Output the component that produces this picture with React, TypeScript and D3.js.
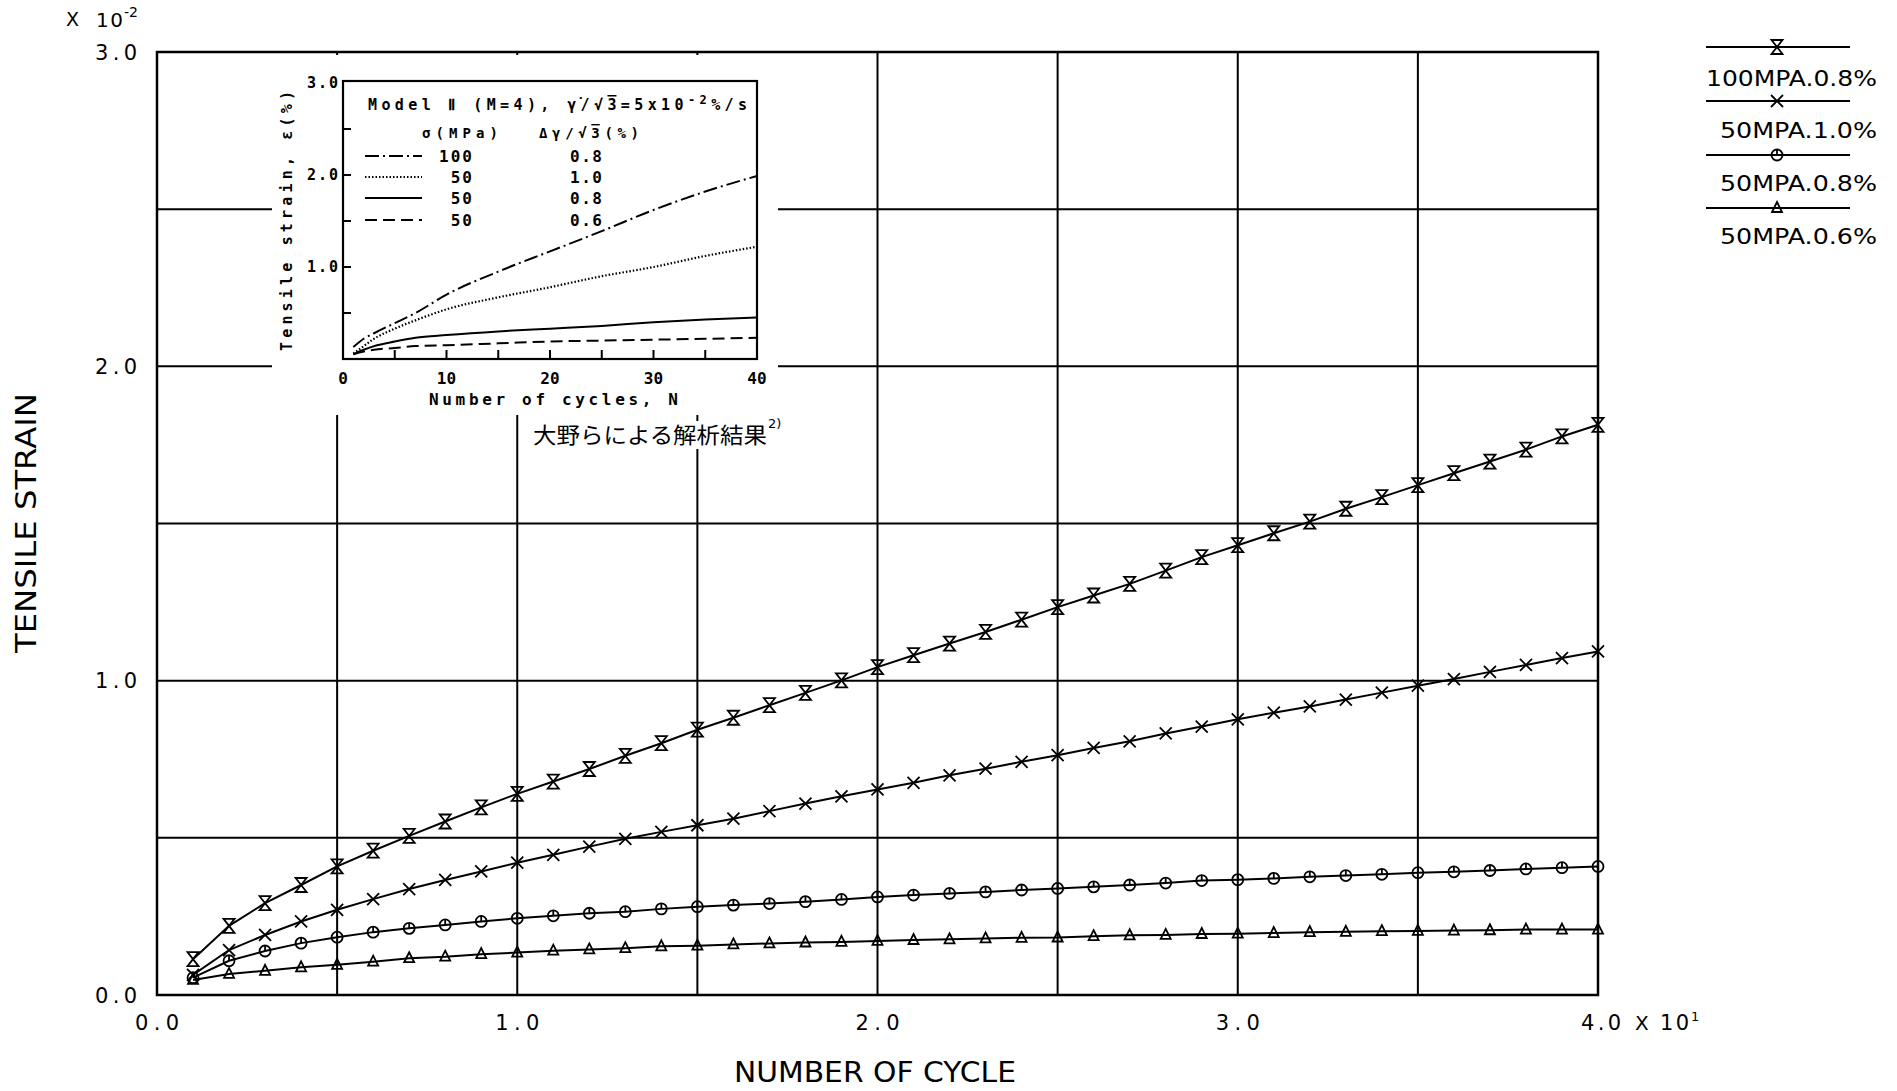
import React from "react";
import * as d3 from "d3";

// Number of cycles (main chart, x values of the markers)
const cycles = [
  1, 2, 3, 4, 5, 6, 7, 8, 9, 10, 11, 12, 13, 14, 15, 16, 17, 18, 19, 20,
  21, 22, 23, 24, 25, 26, 27, 28, 29, 30, 31, 32, 33, 34, 35, 36, 37, 38, 39, 40,
];

// Tensile strain (x 10^-2) for each loading case
const strain100_08 = [
  0.114, 0.22, 0.292, 0.35, 0.409, 0.459, 0.506, 0.552, 0.597, 0.64,
  0.679, 0.719, 0.761, 0.801, 0.844, 0.882, 0.922, 0.961, 1.001, 1.043,
  1.081, 1.118, 1.155, 1.194, 1.234, 1.271, 1.308, 1.35, 1.393, 1.431,
  1.469, 1.506, 1.547, 1.584, 1.622, 1.66, 1.697, 1.735, 1.777, 1.814,
];
const strain50_10 = [
  0.064, 0.143, 0.191, 0.234, 0.271, 0.305, 0.337, 0.366, 0.393, 0.421,
  0.446, 0.472, 0.497, 0.519, 0.54, 0.561, 0.585, 0.609, 0.632, 0.654,
  0.675, 0.699, 0.72, 0.742, 0.763, 0.786, 0.807, 0.832, 0.854, 0.877,
  0.898, 0.918, 0.94, 0.962, 0.984, 1.005, 1.028, 1.05, 1.072, 1.093,
];
const strain50_08 = [
  0.055, 0.109, 0.14, 0.165, 0.184, 0.2, 0.212, 0.223, 0.234, 0.244,
  0.252, 0.26, 0.265, 0.274, 0.281, 0.286, 0.291, 0.297, 0.304, 0.312,
  0.318, 0.323, 0.328, 0.334, 0.339, 0.344, 0.35, 0.356, 0.364, 0.367,
  0.371, 0.376, 0.38, 0.384, 0.389, 0.392, 0.396, 0.401, 0.405, 0.409,
];
const strain50_06 = [
  0.048, 0.067, 0.077, 0.088, 0.096, 0.106, 0.117, 0.122, 0.13, 0.135,
  0.141, 0.145, 0.149, 0.155, 0.157, 0.161, 0.164, 0.167, 0.169, 0.172,
  0.175, 0.177, 0.18, 0.182, 0.183, 0.187, 0.19, 0.191, 0.194, 0.195,
  0.197, 0.2, 0.201, 0.203, 0.204, 0.205, 0.206, 0.208, 0.208, 0.208,
];

const seriesNames = ["100MPA.0.8%", "50MPA.1.0%", "50MPA.0.8%", "50MPA.0.6%"];
const xTickValues = [0, 10, 20, 30];
const xTickLabels = ["0.0", "1.0", "2.0", "3.0"];
const yTickValues = [0, 1, 2, 3];
const yTickLabels = ["0.0", "1.0", "2.0", "3.0"];
const xGrid = [5, 10, 15, 20, 25, 30, 35];
const yGrid = [0.5, 1.0, 1.5, 2.0, 2.5];

// Inset: analysis results (Ohno et al.)
const insetCycles = [1, 2, 3, 5, 7, 10, 15, 20, 25, 30, 35, 40];
const insetDashDot = [0.13, 0.22, 0.28, 0.39, 0.5, 0.7, 0.95, 1.17, 1.39, 1.62, 1.82, 1.99];
const insetDotted = [0.06, 0.14, 0.22, 0.33, 0.42, 0.54, 0.67, 0.78, 0.9, 1.0, 1.12, 1.22];
const insetSolid = [0.05, 0.1, 0.14, 0.19, 0.23, 0.26, 0.3, 0.33, 0.36, 0.4, 0.43, 0.45];
const insetDashed = [0.05, 0.08, 0.1, 0.12, 0.14, 0.15, 0.17, 0.19, 0.2, 0.21, 0.22, 0.23];
const insetSigma = ["100", "50", "50", "50"];
const insetDelta = ["0.8", "1.0", "0.8", "0.6"];
const insetXTicks = [0, 10, 20, 30, 40];
const insetYTicks = [1, 2, 3];

const FONT = "'DejaVu Sans', sans-serif";
const MONO = "'DejaVu Sans Mono', monospace";

type MarkerKind = "hourglass" | "cross" | "circle" | "triangle";
const markerKinds: MarkerKind[] = ["hourglass", "cross", "circle", "triangle"];

function Marker({ kind, x, y }: { kind: MarkerKind; x: number; y: number }) {
  const common = { fill: "none", stroke: "#000", strokeWidth: 1.8 };
  if (kind === "hourglass") {
    return (
      <path
        {...common}
        d={`M${x - 5.5},${y - 7} L${x + 5.5},${y - 7} L${x - 5.5},${y + 7} L${x + 5.5},${y + 7} Z`}
      />
    );
  }
  if (kind === "cross") {
    return (
      <path
        {...common}
        d={`M${x - 6},${y - 6} L${x + 6},${y + 6} M${x - 6},${y + 6} L${x + 6},${y - 6}`}
      />
    );
  }
  if (kind === "circle") {
    return (
      <g>
        <circle {...common} cx={x} cy={y} r={5.5} />
        <line {...common} x1={x} y1={y - 5.5} x2={x} y2={y} />
      </g>
    );
  }
  return (
    <path {...common} d={`M${x},${y - 6} L${x + 5},${y + 4} L${x - 5},${y + 4} Z`} />
  );
}

export default function App() {
  const W = 1897;
  const H = 1091;
  const x = d3.scaleLinear().domain([0, 40]).range([157, 1598]);
  const y = d3.scaleLinear().domain([0, 3]).range([995, 52]);

  const series = [strain100_08, strain50_10, strain50_08, strain50_06];
  const line = d3
    .line<number>()
    .x((_, i) => x(cycles[i]))
    .y((d) => y(d));

  // inset scales
  const ix = d3.scaleLinear().domain([0, 40]).range([343, 757]);
  const iy = d3.scaleLinear().domain([0, 3]).range([359, 83]);
  const iline = d3
    .line<number>()
    .x((_, i) => ix(insetCycles[i]))
    .y((d) => iy(d))
    .curve(d3.curveMonotoneX);
  const insetSeries = [insetDashDot, insetDotted, insetSolid, insetDashed];
  const insetDash = ["14,4,2,4", "1.5,2", "none", "12,6"];

  const legendLineY = [47, 101, 155, 208];
  const legendTextY = [86, 138, 191, 244];
  const legendTextX = [1706, 1720, 1720, 1720];

  const insetRowY = [156, 177, 198, 220];

  return (
    <svg
      width={W}
      height={H}
      style={{ position: "absolute", left: 0, top: 0, background: "#fff" }}
    >
      <rect x={0} y={0} width={W} height={H} fill="#fff" />

      {/* grid */}
      {xGrid.map((g) => (
        <line key={"gx" + g} x1={x(g)} x2={x(g)} y1={y(0)} y2={y(3)} stroke="#000" strokeWidth={2} />
      ))}
      {yGrid.map((g) => (
        <line key={"gy" + g} x1={x(0)} x2={x(40)} y1={y(g)} y2={y(g)} stroke="#000" strokeWidth={2} />
      ))}

      {/* plot frame */}
      <rect
        x={x(0)}
        y={y(3)}
        width={x(40) - x(0)}
        height={y(0) - y(3)}
        fill="none"
        stroke="#000"
        strokeWidth={2.5}
      />

      {/* series */}
      {series.map((s, si) => (
        <g key={"s" + si}>
          <path d={line(s) || ""} fill="none" stroke="#000" strokeWidth={2} />
          {s.map((v, i) => (
            <Marker key={i} kind={markerKinds[si]} x={x(cycles[i])} y={y(v)} />
          ))}
        </g>
      ))}

      {/* y tick labels */}
      {yTickValues.map((v, i) => (
        <text
          key={"yt" + v}
          x={137}
          y={y(v) + 7.5}
          textAnchor="end"
          fontFamily={FONT}
          fontSize={21}
          textLength={42}
          lengthAdjust="spacing"
        >
          {yTickLabels[i]}
        </text>
      ))}
      {/* x tick labels */}
      {xTickValues.map((v, i) => (
        <text
          key={"xt" + v}
          x={x(v) - 22}
          y={1030}
          fontFamily={FONT}
          fontSize={21}
          textLength={44}
          lengthAdjust="spacing"
        >
          {xTickLabels[i]}
        </text>
      ))}
      <text x={1581} y={1030} fontFamily={FONT} fontSize={21} textLength={40} lengthAdjust="spacing">
        4.0
      </text>
      <text x={1635} y={1030} fontFamily={FONT} fontSize={20}>X</text>
      <text x={1660} y={1030} fontFamily={FONT} fontSize={21} textLength={29} lengthAdjust="spacing">
        10
      </text>
      <text x={1691} y={1021} fontFamily={FONT} fontSize={13}>1</text>

      {/* y multiplier */}
      <text x={66} y={26} fontFamily={FONT} fontSize={19}>X</text>
      <text x={96} y={27} fontFamily={FONT} fontSize={20} textLength={27} lengthAdjust="spacing">
        10
      </text>
      <text x={124} y={17} fontFamily={FONT} fontSize={14}>-2</text>

      {/* axis titles */}
      <text
        x={875}
        y={1082}
        textAnchor="middle"
        fontFamily={FONT}
        fontSize={28}
        textLength={282}
        lengthAdjust="spacingAndGlyphs"
      >
        NUMBER OF CYCLE
      </text>
      <text
        transform="translate(36,523) rotate(-90)"
        textAnchor="middle"
        fontFamily={FONT}
        fontSize={28}
        textLength={260}
        lengthAdjust="spacingAndGlyphs"
      >
        TENSILE STRAIN
      </text>

      {/* legend */}
      {seriesNames.map((name, i) => (
        <g key={"lg" + i}>
          <line x1={1706} x2={1850} y1={legendLineY[i]} y2={legendLineY[i]} stroke="#000" strokeWidth={2} />
          <Marker kind={markerKinds[i]} x={1777} y={legendLineY[i]} />
          <text
            x={legendTextX[i]}
            y={legendTextY[i]}
            fontFamily={FONT}
            fontSize={22}
            textLength={1877 - legendTextX[i]}
            lengthAdjust="spacingAndGlyphs"
          >
            {name}
          </text>
        </g>
      ))}

      {/* inset panel */}
      <rect x={272} y={55} width={506} height={360} fill="#fff" />
      <rect
        x={ix(0)}
        y={81}
        width={ix(40) - ix(0)}
        height={iy(0) - 81}
        fill="none"
        stroke="#000"
        strokeWidth={2.2}
      />
      {[0.5, 1, 1.5, 2, 2.5].map((v) => (
        <line key={"iyt" + v} x1={ix(0)} x2={ix(0) + 8} y1={iy(v)} y2={iy(v)} stroke="#000" strokeWidth={2} />
      ))}
      {[5, 10, 15, 20, 25, 30, 35].map((v) => (
        <line key={"ixt" + v} x1={ix(v)} x2={ix(v)} y1={iy(0)} y2={iy(0) - 9} stroke="#000" strokeWidth={2} />
      ))}
      {insetYTicks.map((v) => (
        <text
          key={"iyl" + v}
          x={338}
          y={iy(v) + 5}
          textAnchor="end"
          fontFamily={MONO}
          fontSize={15}
          fontWeight="bold"
          textLength={31}
          lengthAdjust="spacing"
        >
          {v.toFixed(1)}
        </text>
      ))}
      {insetXTicks.map((v) => (
        <text
          key={"ixl" + v}
          x={ix(v)}
          y={384}
          textAnchor="middle"
          fontFamily={MONO}
          fontSize={16}
          fontWeight="bold"
        >
          {String(v)}
        </text>
      ))}
      <text
        x={429}
        y={405}
        fontFamily={MONO}
        fontSize={16}
        fontWeight="bold"
        textLength={249}
        lengthAdjust="spacing"
      >
        Number of cycles, N
      </text>
      <text
        transform="translate(292,351) rotate(-90)"
        fontFamily={MONO}
        fontSize={15}
        fontWeight="bold"
        textLength={260}
        lengthAdjust="spacing"
      >
        Tensile strain, ε(%)
      </text>

      {/* inset curves */}
      {insetSeries.map((s, i) => (
        <path
          key={"ic" + i}
          d={iline(s) || ""}
          fill="none"
          stroke="#000"
          strokeWidth={i === 1 ? 2.2 : 2}
          strokeDasharray={insetDash[i] === "none" ? undefined : insetDash[i]}
        />
      ))}

      {/* inset legend */}
      <text
        x={368}
        y={110}
        fontFamily={MONO}
        fontSize={15}
        fontWeight="bold"
        textLength={379}
        lengthAdjust="spacing"
      >
        <tspan>Model Ⅱ (M=4), γ̇/√</tspan>
        <tspan textDecoration="overline">3</tspan>
        <tspan>=5x10</tspan>
        <tspan dy={-6} fontSize={12}>-2</tspan>
        <tspan dy={6}>%/s</tspan>
      </text>
      <text x={422} y={138} fontFamily={MONO} fontSize={14} fontWeight="bold" textLength={76} lengthAdjust="spacing">
        σ(MPa)
      </text>
      <text
        x={539}
        y={138}
        fontFamily={MONO}
        fontSize={14}
        fontWeight="bold"
        textLength={100}
        lengthAdjust="spacing"
      >
        <tspan>Δγ/√</tspan>
        <tspan textDecoration="overline">3</tspan>
        <tspan>(%)</tspan>
      </text>
      {insetSigma.map((s, i) => (
        <g key={"il" + i}>
          <line
            x1={365}
            x2={422}
            y1={insetRowY[i]}
            y2={insetRowY[i]}
            stroke="#000"
            strokeWidth={i === 1 ? 2.2 : 2}
            strokeDasharray={insetDash[i] === "none" ? undefined : insetDash[i]}
          />
          <text
            x={474}
            y={insetRowY[i] + 5.5}
            textAnchor="end"
            fontFamily={MONO}
            fontSize={16}
            fontWeight="bold"
            letterSpacing={2}
          >
            {s}
          </text>
          <text
            x={570}
            y={insetRowY[i] + 5.5}
            fontFamily={MONO}
            fontSize={16}
            fontWeight="bold"
            letterSpacing={1.5}
          >
            {insetDelta[i]}
          </text>
        </g>
      ))}

      {/* caption of the inset */}
      <rect x={528} y={421} width={262} height={28} fill="#fff" />
      <text
        x={533}
        y={443}
        fontFamily="'Noto Sans CJK JP', sans-serif"
        fontSize={22}
        textLength={234}
        lengthAdjust="spacingAndGlyphs"
      >
        大野らによる解析結果
      </text>
      <text x={768} y={428} fontFamily={FONT} fontSize={13}>2)</text>
    </svg>
  );
}
